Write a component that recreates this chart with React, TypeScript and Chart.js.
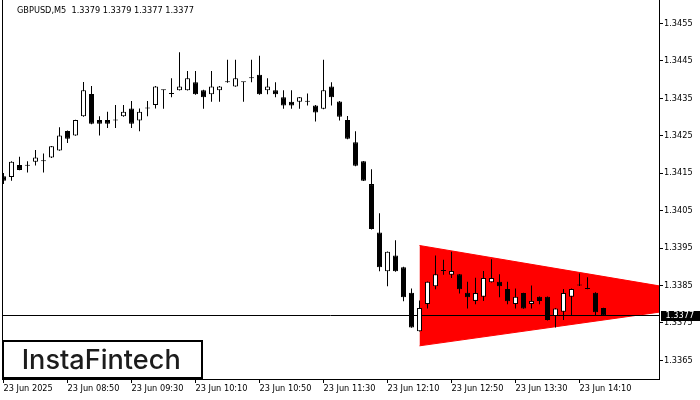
import React, { useEffect, useRef } from "react";
import { Chart, registerables } from "chart.js";

Chart.register(...registerables);

const symbolTitle = "GBPUSD,M5  1.3379 1.3379 1.3377 1.3377";
const brandText = "InstaFintech";

const opens = [
  1.34142, 1.3414, 1.34172, 1.3417, 1.34181, 1.34182, 1.34192, 1.34211, 1.34263, 1.34251,
  1.34302, 1.34362, 1.34292, 1.34292, 1.34291, 1.34302, 1.34323, 1.34291, 1.34323, 1.34332,
  1.34372, 1.34362, 1.34372, 1.34372, 1.34393, 1.34372, 1.34361, 1.34372, 1.34393, 1.34382,
  1.34393, 1.34404, 1.34413, 1.34372, 1.34372, 1.34353, 1.34341, 1.34341, 1.34341, 1.34331,
  1.34322, 1.34382, 1.34342, 1.34292, 1.34233, 1.34182, 1.34121, 1.33992, 1.33888, 1.3393,
  1.33899, 1.33831, 1.33728, 1.33801, 1.33848, 1.33889, 1.33879, 1.3388, 1.33831, 1.33809,
  1.3382, 1.33859, 1.3386, 1.33841, 1.33801, 1.3383, 1.33801, 1.3382, 1.3382, 1.33769,
  1.3378, 1.3382, 1.3385, 1.33841, 1.33831, 1.3379,
];
const highs = [
  1.34151, 1.34182, 1.34194, 1.34182, 1.34212, 1.34203, 1.34223, 1.34273, 1.34264, 1.34293,
  1.34394, 1.34383, 1.34302, 1.34314, 1.34332, 1.34332, 1.34343, 1.34323, 1.34343, 1.34383,
  1.34373, 1.34404, 1.34473, 1.34423, 1.34423, 1.34373, 1.34423, 1.34383, 1.34453, 1.34453,
  1.34394, 1.34453, 1.34464, 1.34404, 1.34393, 1.34372, 1.34372, 1.34354, 1.34363, 1.34332,
  1.34453, 1.34393, 1.34343, 1.34303, 1.34262, 1.34183, 1.34161, 1.34043, 1.33941, 1.33971,
  1.339, 1.33842, 1.3381, 1.33861, 1.3393, 1.33919, 1.3394, 1.33881, 1.3386, 1.33871,
  1.33889, 1.3392, 1.3388, 1.3386, 1.33842, 1.33831, 1.3385, 1.33821, 1.33821, 1.3379,
  1.33841, 1.33842, 1.33882, 1.33872, 1.33832, 1.33791,
];
const lows = [
  1.34121, 1.3413, 1.34158, 1.34152, 1.34171, 1.34152, 1.34191, 1.3421, 1.34231, 1.3425,
  1.34301, 1.34281, 1.34251, 1.34271, 1.34271, 1.34301, 1.34271, 1.34262, 1.34302, 1.34323,
  1.34322, 1.34353, 1.34371, 1.34371, 1.3436, 1.34322, 1.34341, 1.34341, 1.34392, 1.34381,
  1.34341, 1.34393, 1.3436, 1.34361, 1.34353, 1.34322, 1.34322, 1.34322, 1.34331, 1.34288,
  1.34321, 1.34331, 1.34291, 1.34241, 1.34169, 1.34129, 1.34, 1.33888, 1.33848, 1.33887,
  1.33808, 1.33737, 1.33727, 1.33789, 1.3384, 1.33879, 1.3387, 1.33829, 1.33789, 1.338,
  1.33809, 1.33858, 1.33819, 1.338, 1.33789, 1.33788, 1.33789, 1.338, 1.33757, 1.33738,
  1.33758, 1.33769, 1.33849, 1.3384, 1.33769, 1.33769,
];
const closes = [
  1.3413, 1.34181, 1.34159, 1.34171, 1.34192, 1.34183, 1.34222, 1.34251, 1.34242, 1.34292,
  1.34372, 1.34282, 1.34282, 1.34282, 1.34292, 1.34314, 1.34282, 1.34314, 1.34324, 1.34382,
  1.34372, 1.34363, 1.34382, 1.34404, 1.34361, 1.34353, 1.34382, 1.34382, 1.34393, 1.34404,
  1.34393, 1.34404, 1.34361, 1.34382, 1.34361, 1.34331, 1.34331, 1.34353, 1.34341, 1.34312,
  1.34372, 1.34353, 1.34301, 1.34242, 1.3417, 1.3413, 1.34001, 1.33899, 1.3394, 1.33888,
  1.33819, 1.33738, 1.3379, 1.3386, 1.3388, 1.3389, 1.33889, 1.3384, 1.33819, 1.3383,
  1.3387, 1.3387, 1.33848, 1.33808, 1.3382, 1.33789, 1.33809, 1.33809, 1.33758, 1.33789,
  1.3383, 1.33841, 1.3385, 1.33841, 1.33779, 1.3377,
];

const timeLabels = [
  "23 Jun 2025", "23 Jun 08:50", "23 Jun 09:30", "23 Jun 10:10", "23 Jun 10:50",
  "23 Jun 11:30", "23 Jun 12:10", "23 Jun 12:50", "23 Jun 13:30", "23 Jun 14:10",
];
const timeLabelIndex = [0, 8, 16, 24, 32, 40, 48, 56, 64, 72];
const priceTicks = [1.3365, 1.3375, 1.3385, 1.3395, 1.3405, 1.3415, 1.3425, 1.3435, 1.3445, 1.3455];
const currentPrice = 1.3377;

const triangleTop = [
  { x: 52, y: 1.33957 },
  { x: 82, y: 1.33849 },
];
const triangleBottom = [
  { x: 52, y: 1.33689 },
  { x: 82, y: 1.33779 },
];

const X_MIN = -0.1875;
const X_MAX = 81.9375;
const Y_MIN = 1.336004;
const Y_MAX = 1.346128;

const FONT_FAMILY = "'DejaVu Sans'";
const FONT_SIZE = 8.2;

export default function App() {
  const canvasRef = useRef<HTMLCanvasElement | null>(null);

  useEffect(() => {
    document.body.style.margin = "0";
    const canvas = canvasRef.current;
    if (!canvas) return;

    const isUp = (i: number) => closes[i] >= opens[i];
    const bodyData = opens.map((o, i) => ({ x: i, y: [o, closes[i]] }));
    const wickData = lows.map((l, i) => ({ x: i, y: [l, highs[i]] }));

    const overlay = {
      id: "mtOverlay",
      afterDraw(chart: any) {
        const { ctx, chartArea, scales } = chart;
        ctx.save();
        // left frame line
        ctx.strokeStyle = "#000";
        ctx.lineWidth = 1;
        ctx.beginPath();
        ctx.moveTo(chartArea.left + 0.5, 0);
        ctx.lineTo(chartArea.left + 0.5, chartArea.bottom + 1);
        ctx.stroke();

        // header
        ctx.font = `${FONT_SIZE}px ${FONT_FAMILY}`;
        ctx.fillStyle = "#000";
        ctx.textAlign = "left";
        ctx.textBaseline = "middle";
        ctx.fillText(symbolTitle, 17, 11);

        // current price tag
        const py = scales.y.getPixelForValue(currentPrice);
        ctx.fillStyle = "#000";
        ctx.fillRect(chartArea.right + 2, Math.round(py) - 5, 45, 10);
        ctx.fillStyle = "#fff";
        ctx.fillText(currentPrice.toFixed(4), chartArea.right + 6.5, Math.round(py));

        // logo box
        ctx.fillStyle = "#fff";
        ctx.fillRect(3, 341, 199, 37);
        ctx.strokeStyle = "#000";
        ctx.lineWidth = 2;
        ctx.strokeRect(3, 341, 199, 37);
        ctx.fillStyle = "#1c1c1c";
        ctx.font = "500 27px Inter";
        ctx.textBaseline = "alphabetic";
        const w = ctx.measureText(brandText).width;
        ctx.translate(21.7, 369);
        ctx.scale(159 / w, 1);
        ctx.fillText(brandText, 0, 0);
        ctx.restore();
      },
    };

    const chart = new Chart(canvas, {
      type: "bar",
      data: {
        datasets: [
          {
            type: "bar",
            label: "body",
            data: bodyData as any,
            backgroundColor: (c: any) => (isUp(c.dataIndex) ? "#ffffff" : "#000000"),
            borderColor: "#000000",
            borderWidth: 1,
            borderSkipped: false,
            barThickness: 5,
            grouped: false,
            minBarLength: 1,
            inflateAmount: 0,
            order: 0,
          } as any,
          {
            type: "bar",
            label: "wick",
            data: wickData as any,
            backgroundColor: "#000000",
            borderWidth: 0,
            barThickness: 1,
            grouped: false,
            inflateAmount: 0,
            order: 1,
          } as any,
          {
            type: "line",
            label: "bid",
            data: [
              { x: X_MIN, y: currentPrice },
              { x: X_MAX, y: currentPrice },
            ],
            borderColor: "#000000",
            borderWidth: 1,
            pointRadius: 0,
            fill: false,
            order: 2,
          } as any,
          {
            type: "line",
            label: "triangleTop",
            data: triangleTop,
            borderColor: "#ff0000",
            borderWidth: 1,
            backgroundColor: "#ff0000",
            pointRadius: 0,
            fill: "+1",
            order: 3,
          } as any,
          {
            type: "line",
            label: "triangleBottom",
            data: triangleBottom,
            borderColor: "#ff0000",
            borderWidth: 1,
            pointRadius: 0,
            fill: false,
            order: 4,
          } as any,
        ],
      },
      options: {
        responsive: false,
        maintainAspectRatio: false,
        animation: false,
        events: [],
        layout: { padding: { left: 2, right: 0, top: 0, bottom: 0 } },
        plugins: {
          legend: { display: false },
          tooltip: { enabled: false },
          title: { display: false },
        },
        scales: {
          x: {
            type: "linear",
            position: "bottom",
            min: X_MIN,
            max: X_MAX,
            offset: false,
            grid: { drawOnChartArea: false, drawTicks: true, tickLength: 4, color: "#000", offset: false },
            border: { display: true, color: "#000", width: 1 },
            ticks: {
              autoSkip: false,
              maxRotation: 0,
              minRotation: 0,
              align: "start",
              padding: 1,
              color: "#000",
              font: { family: "DejaVu Sans", size: FONT_SIZE },
              callback: (_v: any, i: number) => timeLabels[i],
            },
            afterBuildTicks: (s: any) => {
              s.ticks = timeLabelIndex.map((v) => ({ value: v }));
            },
            afterFit: (s: any) => {
              s.height = 21;
              s.paddingLeft = 0;
              s.paddingRight = 0;
            },
          } as any,
          y: {
            type: "linear",
            position: "right",
            min: Y_MIN,
            max: Y_MAX,
            beginAtZero: false,
            grid: { drawOnChartArea: false, drawTicks: true, tickLength: 4, color: "#000" },
            border: { display: true, color: "#000", width: 1 },
            ticks: {
              autoSkip: false,
              padding: 1,
              color: "#000",
              font: { family: "DejaVu Sans", size: FONT_SIZE },
              callback: (v: any) => Number(v).toFixed(4),
            },
            afterBuildTicks: (s: any) => {
              s.ticks = priceTicks.map((v) => ({ value: v }));
            },
            afterFit: (s: any) => {
              s.width = 41;
              s.paddingTop = 0;
              s.paddingBottom = 0;
            },
          } as any,
        },
      },
      plugins: [overlay],
    });

    return () => {
      chart.destroy();
    };
  }, []);

  return (
    <div style={{ width: 700, height: 400, position: "relative", background: "#fff" }}>
      <canvas ref={canvasRef} width={700} height={400} style={{ display: "block", width: 700, height: 400 }} />
    </div>
  );
}
